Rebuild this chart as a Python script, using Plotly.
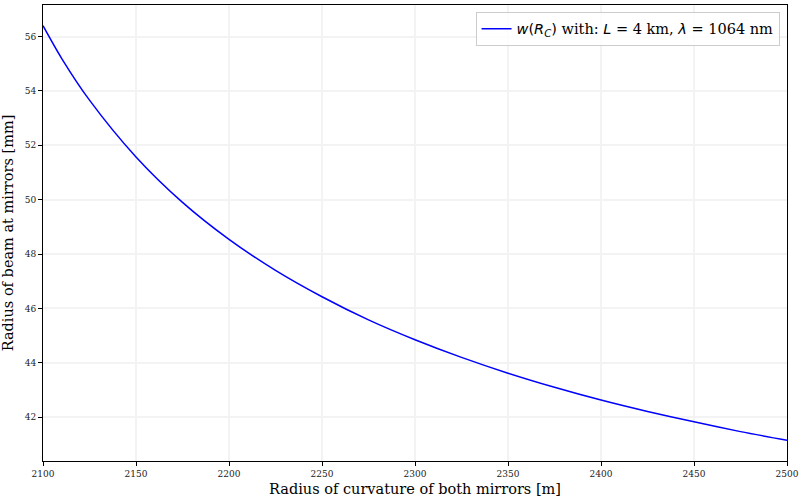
import plotly.graph_objects as go

# Radius of curvature of both mirrors [m]
radius_m = [2100, 2110, 2125, 2150, 2175, 2200, 2225, 2250, 2275, 2300,
            2325, 2350, 2375, 2400, 2425, 2450, 2475, 2500]
# Beam radius at mirrors [mm]
beam_mm = [56.40, 55.20, 53.66, 51.57, 49.90, 48.54, 47.40, 46.43, 45.58, 44.85,
           44.20, 43.62, 43.10, 42.63, 42.21, 41.83, 41.47, 41.15]

xticks = [2100, 2150, 2200, 2250, 2300, 2350, 2400, 2450, 2500]
yticks = [42, 44, 46, 48, 50, 52, 54, 56]

serif = "DejaVu Serif"
math = "DejaVu Sans"
label = (f'<span style="font-family:{math}"><i>w</i>(<i>R</i></span>'
         f'<sub><span style="font-family:{math}"><i>C</i></span></sub>'
         f'<span style="font-family:{math}">)</span>'
         f'<span style="font-family:{serif}"> with: </span>'
         f'<span style="font-family:{math}"><i>L</i></span>'
         f'<span style="font-family:{serif}"> = 4 km, </span>'
         f'<span style="font-family:{math}"><i>λ</i></span>'
         f'<span style="font-family:{serif}"> = 1064 nm</span>')

fig = go.Figure()
fig.add_trace(go.Scatter(x=radius_m, y=beam_mm, mode="lines",
                         line=dict(color="#0000ff", width=1.5, shape="spline", smoothing=0.8),
                         name=label, showlegend=True))

axis_common = dict(showline=True, linecolor="black", linewidth=1, mirror=True,
                   ticks="outside", ticklen=4, tickcolor="black",
                   showgrid=True, gridcolor="#f3f3f3", gridwidth=1.5,
                   zeroline=False, tickfont=dict(family=serif, size=9, color="#222"))

fig.update_layout(
    width=803, height=500,
    margin=dict(l=43, r=16, t=5, b=39),
    paper_bgcolor="white", plot_bgcolor="white",
    font=dict(family=serif, color="black"),
    showlegend=True,
    legend=dict(x=0.99, y=0.985, xanchor="right", yanchor="top",
                bgcolor="rgba(255,255,255,0.8)", bordercolor="#cccccc", borderwidth=1,
                font=dict(family=serif, size=14.5), itemwidth=30),
    xaxis=dict(range=[2100, 2500], tickvals=xticks,
               title=dict(text="Radius of curvature of both mirrors [m]",
                          font=dict(family=serif, size=14.5), standoff=6),
               **axis_common),
    yaxis=dict(range=[40.39, 57.16], tickvals=yticks,
               title=dict(text="Radius of beam at mirrors [mm]",
                          font=dict(family=serif, size=14.5), standoff=8),
               **axis_common),
)

fig.write_html("out.html")
